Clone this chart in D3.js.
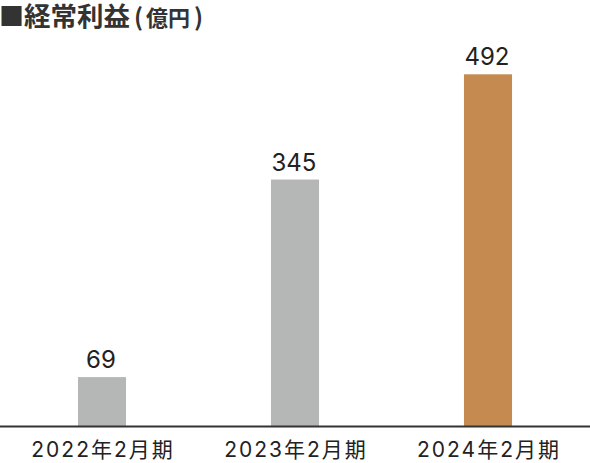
<!DOCTYPE html>
<html>
<head>
<meta charset="utf-8">
<script src="https://cdn.jsdelivr.net/npm/d3@7"></script>
<style>
  body { margin: 0; background: white; }
  svg { display: block; }
</style>
</head>
<body>
<svg id="chart" width="590" height="463"></svg>
<script>
// 数据
const periods = ["2022年2月期", "2023年2月期", "2024年2月期"];
const values = [69, 345, 492];
const barColors = ["#b5b7b6", "#b5b7b6", "#c48a4f"];

window.addEventListener("load", main);

function main()
{
    const svg = d3.select("svg#chart");
    const width = +svg.attr("width");
    const baseY = 426.5;

    const x = d3.scaleBand().domain(periods).range([5.5, 584.5]).paddingInner(0.751).paddingOuter(0.3755);
    const y = d3.scaleLinear().domain([0, 492]).range([baseY, 74.3]);

    // 标题
    const title = svg.append("text")
        .attr("y", 26)
        .attr("fill", "#333")
        .attr("font-family", "'Noto Sans CJK JP', sans-serif")
        .attr("font-weight", 700);
    title.append("tspan").attr("x", -1).attr("font-size", "25px").text("■");
    title.append("tspan").attr("x", 24).attr("font-size", "26.5px").text("経常利益");
    title.append("tspan").attr("x", 134).attr("font-size", "24px").text("(");
    title.append("tspan").attr("x", 146).attr("font-size", "22px").text("億円");
    title.append("tspan").attr("x", 194).attr("font-size", "24px").text(")");

    // 柱子
    svg.selectAll("rect.bar").data(values).join("rect")
        .attr("class", "bar")
        .attr("x", (d, i) => x(periods[i]))
        .attr("y", d => y(d))
        .attr("width", x.bandwidth())
        .attr("height", d => baseY - y(d))
        .attr("fill", (d, i) => barColors[i]);

    // 数值
    svg.selectAll("text.val").data(values).join("text")
        .attr("class", "val")
        .text(d => d)
        .attr("x", (d, i) => x(periods[i]) + x.bandwidth() / 2 - 1)
        .attr("y", d => y(d) - 9)
        .attr("text-anchor", "middle")
        .attr("fill", "#222")
        .attr("font-family", "Inter, 'Liberation Sans', sans-serif")
        .attr("font-size", "24px");

    // x 轴
    const axis = svg.append("g")
        .attr("transform", `translate(0,${baseY})`)
        .call(d3.axisBottom(x).tickSize(0).tickPadding(15.5));
    axis.select(".domain").remove();
    axis.append("line")
        .attr("x1", 0).attr("x2", width)
        .attr("stroke", "#333").attr("stroke-width", 2);
    axis.selectAll(".tick text")
        .attr("fill", "#222")
        .attr("font-family", "Inter, 'Noto Sans CJK JP', sans-serif")
        .attr("font-size", "21px")
        .attr("dy", "0.72em")
        .attr("dx", "1px")
        .attr("letter-spacing", "2px");
}
</script>
</body>
</html>
